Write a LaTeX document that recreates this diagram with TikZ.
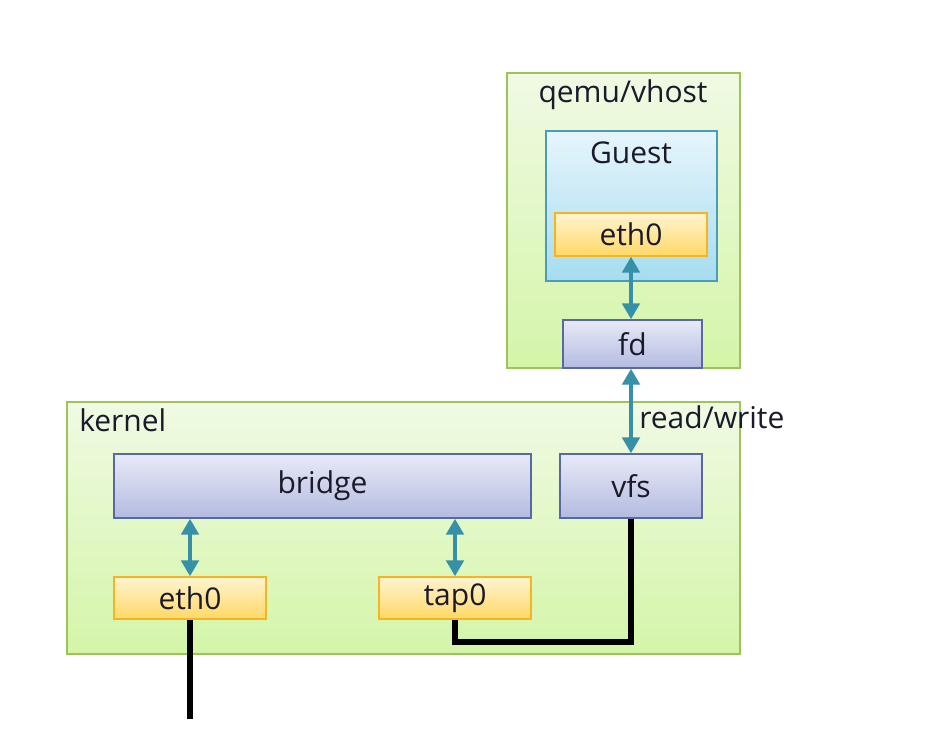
\documentclass[tikz,border=0pt]{standalone}
\usepackage{fontspec}
\setmainfont{Open Sans}
\usetikzlibrary{arrows.meta,shadows,calc}
\definecolor{gtop}{HTML}{F0FAE4}
\definecolor{gbot}{HTML}{D4F5A8}
\definecolor{gbor}{HTML}{9CC45A}
\definecolor{btop}{HTML}{E6F5FC}
\definecolor{bbot}{HTML}{A6DCF0}
\definecolor{bbor}{HTML}{4C9CB4}
\definecolor{ytop}{HTML}{FFF4D0}
\definecolor{ybot}{HTML}{FFD865}
\definecolor{ybor}{HTML}{F5B520}
\definecolor{ltop}{HTML}{E8EAF7}
\definecolor{lbot}{HTML}{B3BBE0}
\definecolor{lbor}{HTML}{5868A4}
\definecolor{teal}{HTML}{3590A8}
\definecolor{txt}{HTML}{1A1A2A}
\tikzset{
  base/.style={draw, line width=1.1pt, inner sep=0pt, text=txt,
    drop shadow={shadow xshift=1pt, shadow yshift=-1pt, opacity=0.2}},
  greenbox/.style={base, draw=gbor, top color=gtop, bottom color=gbot},
  bluebox/.style={base, draw=bbor, top color=btop, bottom color=bbot},
  yellowbox/.style={base, draw=ybor, top color=ytop, bottom color=ybot},
  lavbox/.style={base, draw=lbor, top color=ltop, bottom color=lbot},
  lbl/.style={text=txt, inner sep=0pt},
  biarrow/.style={draw=teal, line width=3pt,
    {Triangle[width=13pt,length=12pt]}-{Triangle[width=13pt,length=12pt]}},
  wire/.style={draw=black, line width=3.8pt}
}
\begin{document}
\begin{tikzpicture}[x=0.75pt,y=-0.75pt,font=\fontsize{22.5}{27}\selectfont]
\useasboundingbox[fill=white] (0,0) rectangle (948,752);
% containers
\node[greenbox, minimum width=174.75pt, minimum height=221.25pt] (qemu) at (623.5,220.5) {};
\node[greenbox, minimum width=504.75pt, minimum height=189pt] (kernel) at (403.5,528) {};
\node[bluebox, minimum width=128.25pt, minimum height=112.5pt] (guest) at (631.5,206) {};
\node[lbl] (qemulbl) at (623,95) {qemu/vhost};
\node[lbl] (guestlbl) at (631,153) {Guest};
\node[lbl, anchor=west] (kernellbl) at (79,420) {kernel};
% inner nodes
\node[yellowbox, minimum width=114pt, minimum height=32.25pt] (geth) at (631,234.5) {eth0};
\node[lavbox, minimum width=104.25pt, minimum height=36pt] (fd) at (632.5,344) {fd};
\node[lavbox, minimum width=312.75pt, minimum height=48pt] (bridge) at (322.5,486) {bridge};
\node[lavbox, minimum width=106.5pt, minimum height=48pt] (vfs) at (631,486) {vfs};
\node[yellowbox, minimum width=114pt, minimum height=31.5pt] (keth) at (190,598) {eth0};
\node[yellowbox, minimum width=114pt, minimum height=31.5pt] (tap) at (455,598) {tap0};
\node[lbl, anchor=west] (rw) at (639,417) {read/write};
% arrows
\draw[biarrow] (geth.south) -- (geth.south |- fd.north);
\draw[biarrow] (fd.south -| vfs.north) -- (vfs.north);
\draw[biarrow] (bridge.south -| keth.north) -- (keth.north);
\draw[biarrow] (bridge.south -| tap.north) -- (tap.north);
% wires
\coordinate (turn) at (631,642);
\coordinate (ethend) at (190,719);
\draw[wire] (tap.south) |- (turn) -- (vfs.south);
\draw[wire] (keth.south) -- (ethend);
\end{tikzpicture}
\end{document}
